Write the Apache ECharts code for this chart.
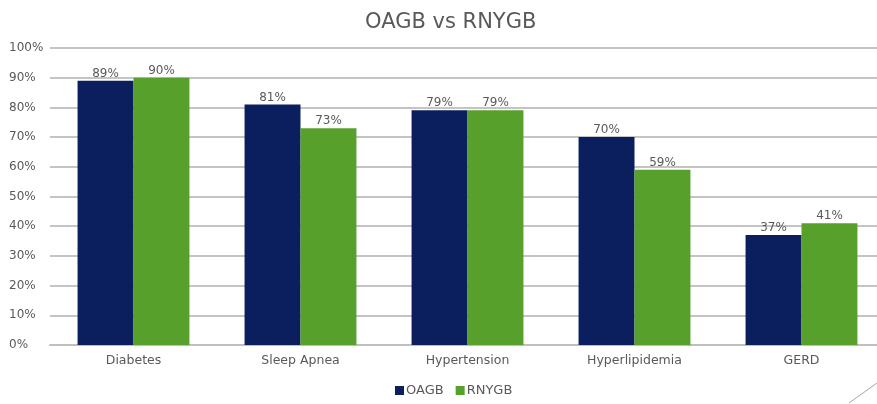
<!DOCTYPE html>
<html>
<head>
<meta charset="utf-8">
<script src="https://cdn.jsdelivr.net/npm/echarts@6/dist/echarts.min.js"></script>
<style>
  html, body { margin: 0; padding: 0; background: #fff; }
  #chart { width: 877px; height: 404px; }
</style>
</head>
<body>
<div id="chart"></div>
<script>
// data
const categories = ["Diabetes", "Sleep Apnea", "Hypertension", "Hyperlipidemia", "GERD"];
const oagb = [89, 81, 79, 70, 37];
const rnygb = [90, 73, 79, 59, 41];

const chart = echarts.init(document.getElementById("chart"));

const labelStyle = {
  show: true,
  position: "top",
  distance: 1,
  formatter: "{c}%",
  color: "#595959",
  fontSize: 12,
  fontFamily: "DejaVu Sans"
};

chart.setOption({
  animation: false,
  title: {
    text: "OAGB vs RNYGB",
    left: 360,
    top: 7,
    textStyle: { color: "#595959", fontSize: 21, fontWeight: "normal", fontFamily: "DejaVu Sans" }
  },
  legend: {
    bottom: 2,
    left: 390,
    itemWidth: 9,
    itemHeight: 9,
    itemGap: 12,
    icon: "rect",
    textStyle: { color: "#595959", fontSize: 13, fontFamily: "DejaVu Sans", padding: [0, 0, 0, -3] },
    data: ["OAGB", "RNYGB"]
  },
  // plot runs a little past the right edge, as in the slide
  grid: { left: 50, top: 48, width: 835, height: 297, outerBoundsMode: "none", containLabel: false },
  xAxis: {
    type: "category",
    data: categories,
    axisLine: { lineStyle: { color: "#bfbfbf", width: 2 } },
    axisTick: { show: false },
    axisLabel: { color: "#595959", fontSize: 12.5, fontFamily: "DejaVu Sans", margin: 9 }
  },
  yAxis: {
    type: "value",
    min: 0,
    max: 100,
    interval: 10,
    axisLine: { show: false },
    axisTick: { show: false },
    axisLabel: { formatter: "{value}%", color: "#595959", fontSize: 12, fontFamily: "DejaVu Sans", margin: 41, align: "left" },
    splitLine: { lineStyle: { color: "#c4c4c4", width: 2 } }
  },
  series: [
    {
      name: "OAGB",
      type: "bar",
      data: oagb,
      barGap: "0%",
      barCategoryGap: "33%",
      itemStyle: { color: "#0b1f5e" },
      label: labelStyle
    },
    {
      name: "RNYGB",
      type: "bar",
      data: rnygb,
      itemStyle: { color: "#57a02b" },
      label: labelStyle
    }
  ],
  graphic: [
    {
      type: "line",
      shape: { x1: 849, y1: 403, x2: 877, y2: 383 },
      style: { stroke: "#a6a6a6", lineWidth: 1 }
    }
  ]
});

window.addEventListener("resize", function () {
  chart.resize();
});
</script>
</body>
</html>
